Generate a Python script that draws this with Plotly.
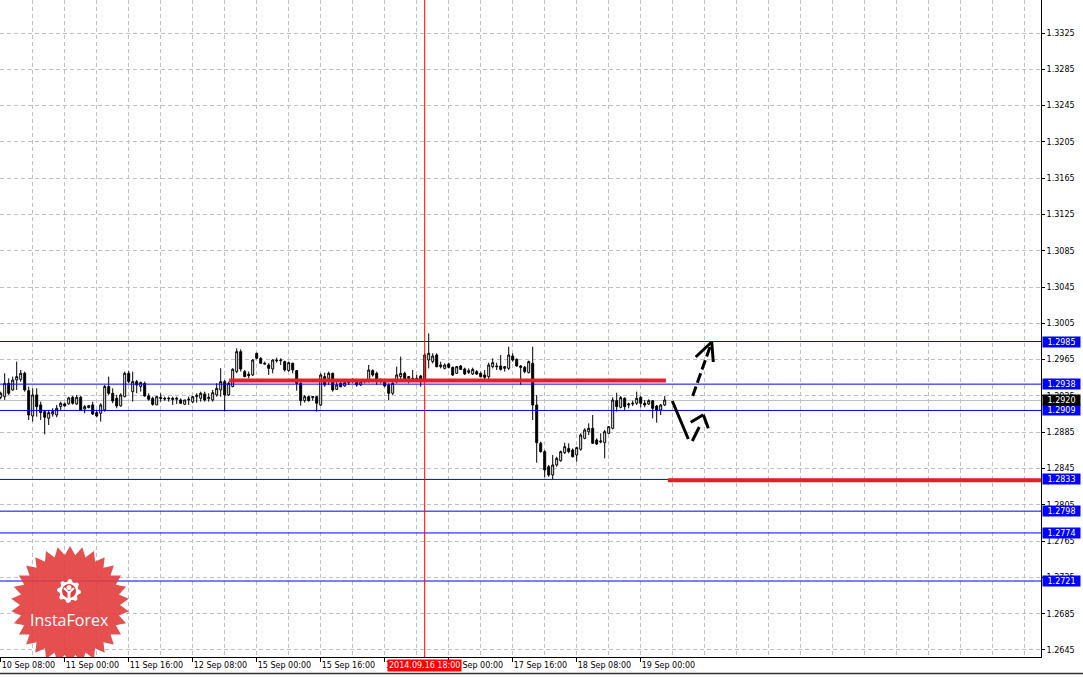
import math
import plotly.graph_objects as go

# ---------------- data (H1 bars) ----------------
opens = [1.29235,1.29242,1.29389,1.29316,1.29426,1.29433,1.29500,1.29308,1.29029,1.29261,
         1.29151,1.29077,1.29004,1.29051,1.29040,1.29132,1.29162,1.29162,1.29235,1.29162,
         1.29235,1.29106,1.29121,1.29151,1.29066,1.29059,1.29096,1.29353,1.29279,1.29224,
         1.29140,1.29242,1.29500,1.29297,1.29408,1.29353,1.29389,1.29250,1.29224,1.29151,
         1.29235,1.29224,1.29217,1.29224,1.29213,1.29206,1.29158,1.29206,1.29184,1.29242,
         1.29224,1.29272,1.29220,1.29206,1.29261,1.29316,1.29408,1.29261,1.29353,1.29518,
         1.29738,1.29518,1.29489,1.29481,1.29720,1.29665,1.29610,1.29591,1.29547,1.29646,
         1.29639,1.29628,1.29529,1.29610,1.29529,1.29389,1.29198,1.29242,1.29231,1.29242,
         1.29150,1.29463,1.29444,1.29499,1.29323,1.29389,1.29360,1.29397,1.29408,1.29408,
         1.29371,1.29408,1.29408,1.29529,1.29499,1.29408,1.29419,1.29371,1.29279,1.29408,
         1.29463,1.29499,1.29444,1.29426,1.29444,1.29470,1.29426,1.29646,1.29628,1.29701,
         1.29573,1.29554,1.29602,1.29565,1.29499,1.29580,1.29547,1.29510,1.29492,1.29518,
         1.29499,1.29481,1.29462,1.29573,1.29580,1.29580,1.29554,1.29554,1.29690,1.29653,
         1.29580,1.29565,1.29507,1.29609,1.29150,1.28728,1.28636,1.28470,1.28379,1.28489,
         1.28536,1.28625,1.28672,1.28654,1.28599,1.28662,1.28783,1.28856,1.28893,1.28764,
         1.28742,1.28735,1.28838,1.28893,1.29198,1.29124,1.29224,1.29150,1.29161,1.29169,
         1.29235,1.29169,1.29161,1.29198,1.29139,1.29095,1.29150]
highs = [1.29297,1.29500,1.29444,1.29463,1.29628,1.29536,1.29518,1.29353,1.29334,1.29334,
         1.29187,1.29096,1.29096,1.29114,1.29151,1.29187,1.29176,1.29242,1.29250,1.29261,
         1.29250,1.29151,1.29151,1.29187,1.29096,1.29169,1.29371,1.29463,1.29334,1.29261,
         1.29279,1.29518,1.29529,1.29518,1.29426,1.29408,1.29408,1.29279,1.29242,1.29250,
         1.29279,1.29242,1.29242,1.29242,1.29242,1.29224,1.29206,1.29242,1.29250,1.29279,
         1.29297,1.29297,1.29279,1.29316,1.29389,1.29555,1.29426,1.29408,1.29555,1.29775,
         1.29764,1.29536,1.29518,1.29654,1.29727,1.29676,1.29628,1.29610,1.29654,1.29672,
         1.29665,1.29639,1.29628,1.29617,1.29536,1.29408,1.29261,1.29253,1.29250,1.29250,
         1.29499,1.29507,1.29518,1.29507,1.29408,1.29426,1.29426,1.29426,1.29444,1.29426,
         1.29426,1.29433,1.29591,1.29543,1.29518,1.29444,1.29433,1.29389,1.29408,1.29573,
         1.29683,1.29518,1.29470,1.29536,1.29481,1.29481,1.29720,1.29940,1.29720,1.29720,
         1.29628,1.29609,1.29617,1.29573,1.29580,1.29591,1.29562,1.29554,1.29562,1.29536,
         1.29518,1.29536,1.29617,1.29664,1.29617,1.29701,1.29580,1.29793,1.29720,1.29664,
         1.29591,1.29580,1.29639,1.29793,1.29260,1.28746,1.28654,1.28489,1.28599,1.28580,
         1.28647,1.28735,1.28728,1.28672,1.28691,1.28838,1.28893,1.28948,1.29040,1.28783,
         1.28838,1.28875,1.28919,1.29235,1.29286,1.29249,1.29235,1.29176,1.29198,1.29297,
         1.29249,1.29205,1.29213,1.29205,1.29150,1.29161,1.29249]
lows = [1.29213,1.29206,1.29261,1.29308,1.29316,1.29408,1.29297,1.28985,1.28967,1.29022,
        1.28985,1.28827,1.28930,1.29022,1.29015,1.29096,1.29132,1.29154,1.29154,1.29151,
        1.29088,1.29059,1.29114,1.29040,1.29015,1.28967,1.29077,1.29261,1.29169,1.29114,
        1.29132,1.29235,1.29389,1.29187,1.29279,1.29297,1.29242,1.29198,1.29143,1.29151,
        1.29187,1.29198,1.29187,1.29151,1.29162,1.29162,1.29151,1.29151,1.29169,1.29176,
        1.29187,1.29187,1.29187,1.29187,1.29242,1.29242,1.29077,1.29250,1.29345,1.29500,
        1.29518,1.29456,1.29444,1.29470,1.29654,1.29602,1.29599,1.29481,1.29499,1.29617,
        1.29591,1.29518,1.29518,1.29499,1.29308,1.29143,1.29176,1.29187,1.29198,1.29077,
        1.29139,1.29352,1.29371,1.29297,1.29316,1.29345,1.29352,1.29371,1.29389,1.29352,
        1.29360,1.29389,1.29397,1.29463,1.29371,1.29389,1.29345,1.29205,1.29261,1.29389,
        1.29426,1.29408,1.29389,1.29408,1.29408,1.29352,1.29418,1.29554,1.29609,1.29565,
        1.29554,1.29543,1.29554,1.29470,1.29492,1.29536,1.29481,1.29492,1.29481,1.29481,
        1.29455,1.29426,1.29426,1.29554,1.29536,1.29529,1.29518,1.29536,1.29628,1.29573,
        1.29371,1.29499,1.29499,1.28985,1.28514,1.28625,1.28353,1.28360,1.28331,1.28470,
        1.28525,1.28610,1.28617,1.28573,1.28525,1.28647,1.28772,1.28819,1.28720,1.28709,
        1.28728,1.28562,1.28831,1.28882,1.29077,1.29113,1.29088,1.29113,1.29139,1.29150,
        1.29124,1.29124,1.29150,1.29003,1.28955,1.29040,1.29139]
closes = [1.29279,1.29389,1.29279,1.29426,1.29463,1.29500,1.29316,1.29040,1.29261,1.29132,
          1.29066,1.29015,1.29066,1.29077,1.29114,1.29169,1.29140,1.29228,1.29169,1.29235,
          1.29096,1.29132,1.29143,1.29051,1.29029,1.29151,1.29353,1.29279,1.29195,1.29140,
          1.29261,1.29500,1.29408,1.29408,1.29371,1.29397,1.29250,1.29213,1.29158,1.29242,
          1.29224,1.29217,1.29224,1.29213,1.29224,1.29169,1.29206,1.29213,1.29242,1.29257,
          1.29279,1.29206,1.29235,1.29286,1.29334,1.29408,1.29261,1.29389,1.29544,1.29738,
          1.29547,1.29463,1.29474,1.29646,1.29665,1.29610,1.29602,1.29554,1.29646,1.29639,
          1.29646,1.29536,1.29617,1.29536,1.29389,1.29198,1.29242,1.29198,1.29242,1.29169,
          1.29481,1.29371,1.29499,1.29316,1.29371,1.29352,1.29397,1.29408,1.29426,1.29371,
          1.29408,1.29426,1.29536,1.29481,1.29408,1.29426,1.29360,1.29279,1.29389,1.29481,
          1.29499,1.29426,1.29463,1.29444,1.29426,1.29426,1.29701,1.29720,1.29690,1.29573,
          1.29591,1.29591,1.29565,1.29481,1.29573,1.29543,1.29492,1.29529,1.29543,1.29492,
          1.29462,1.29455,1.29591,1.29617,1.29573,1.29543,1.29573,1.29701,1.29646,1.29580,
          1.29565,1.29518,1.29628,1.29150,1.28735,1.28636,1.28434,1.28379,1.28489,1.28562,
          1.28636,1.28691,1.28636,1.28580,1.28680,1.28819,1.28875,1.28893,1.28728,1.28720,
          1.28753,1.28856,1.28911,1.29205,1.29132,1.29231,1.29132,1.29161,1.29169,1.29224,
          1.29169,1.29150,1.29198,1.29113,1.29095,1.29150,1.29205]
bars = list(range(len(opens)))

time_tick_bars = [0, 16, 32, 48, 64, 80, 96, 112, 128, 144, 160]
time_tick_labels = ["10 Sep 08:00", "11 Sep 00:00", "11 Sep 16:00", "12 Sep 08:00",
                    "15 Sep 00:00", "15 Sep 16:00", "16 Sep 08:00", "17 Sep 00:00",
                    "17 Sep 16:00", "18 Sep 08:00", "19 Sep 00:00"]
grid_bars = [8, 24, 40, 56, 72, 88, 104, 120, 136, 152, 168, 176, 184, 192, 200, 208,
             216, 224, 232, 240, 248, 256]
price_ticks = [1.2645, 1.2685, 1.2725, 1.2765, 1.2805, 1.2845, 1.2885, 1.2925, 1.2965,
               1.3005, 1.3045, 1.3085, 1.3125, 1.3165, 1.3205, 1.3245, 1.3285, 1.3325]

blue_levels = [1.2985, 1.2938, 1.2909, 1.2833, 1.2798, 1.2774, 1.2721]
current_price = 1.2920
red_levels = [1.2942, 1.2832]
red_starts = [57.1, 166.8]
red_ends = [166.3, None]
vline_bar = 106
vline_label = "2014.09.16 18:00"

# ---------------- geometry helpers ----------------
W, H = 1041, 657
X0, X1 = -0.175, 260.075
Y0, Y1 = 1.263726, 1.336140


def px2x(px):
    return X0 + px / W * (X1 - X0)


def py2y(py):
    return Y1 - py / H * (Y1 - Y0)


FONT = "DejaVu Sans"

fig = go.Figure()
fig.add_trace(go.Candlestick(
    x=bars, open=opens, high=highs, low=lows, close=closes,
    increasing=dict(line=dict(color="black", width=1), fillcolor="white"),
    decreasing=dict(line=dict(color="black", width=1), fillcolor="black"),
    whiskerwidth=0, hoverinfo="skip", showlegend=False))

shapes = []
shapes.append(dict(type="line", xref="paper", x0=0, x1=1, yref="y", y0=current_price,
                   y1=current_price, line=dict(color="#c0c0c0", width=1), layer="below"))
for lv in blue_levels:
    shapes.append(dict(type="line", xref="paper", x0=0, x1=1, yref="y", y0=lv, y1=lv,
                       line=dict(color="#0000ff", width=1)))
shapes.append(dict(type="line", xref="x", x0=vline_bar, x1=vline_bar, yref="paper",
                   y0=0, y1=1, line=dict(color="#ff0000", width=1)))
for lv, s, e in zip(red_levels, red_starts, red_ends):
    shapes.append(dict(type="line", xref="x", x0=s, x1=(X1 if e is None else e), yref="y",
                       y0=lv, y1=lv, line=dict(color="#e3202a", width=4)))


def seg(p, q, dash="solid"):
    return dict(type="line", xref="x", yref="y", x0=px2x(p[0]), y0=py2y(p[1]),
                x1=px2x(q[0]), y1=py2y(q[1]),
                line=dict(color="black", width=3, dash=dash))


shapes.append(seg((692.7, 396), (711.7, 342), dash="10px,4px"))
shapes.append(seg((711.7, 342), (695.7, 357)))
shapes.append(seg((711.7, 342), (713.3, 362)))
shapes.append(seg((672.3, 401), (688.3, 439)))
shapes.append(seg((692.3, 441), (699.3, 427)))
shapes.append(seg((690.7, 422.3), (703.3, 414.7)))
shapes.append(seg((703.3, 414.7), (708.3, 428.3)))

# InstaForex starburst logo
cx, cy, r_out, r_in, n = 70, 605, 59, 50, 30
pts = []
for k in range(2 * n):
    a = math.pi * k / n - math.pi / 2
    r = r_out if k % 2 == 0 else r_in
    pts.append((cx + r * math.cos(a), cy + r * math.sin(a)))
path = "M " + " L ".join(f"{px2x(x):.4f},{py2y(y):.6f}" for x, y in pts) + " Z"
shapes.append(dict(type="path", xref="x", yref="y", path=path,
                   fillcolor="rgba(226,60,60,0.9)", line=dict(width=0)))
gx, gy = 69, 591
gpts = []
teeth = 8
for k in range(teeth * 4):
    a = 2 * math.pi * k / (teeth * 4)
    r = 12 if (k % 4) in (0, 1) else 9.5
    gpts.append((gx + r * math.cos(a), gy + r * math.sin(a)))
gpath = "M " + " L ".join(f"{px2x(x):.4f},{py2y(y):.6f}" for x, y in gpts) + " Z"
shapes.append(dict(type="path", xref="x", yref="y", path=gpath, fillcolor="white",
                   line=dict(width=0)))
shapes.append(dict(type="circle", xref="x", yref="y", x0=px2x(gx - 7), x1=px2x(gx + 7),
                   y0=py2y(gy + 7), y1=py2y(gy - 7), fillcolor="rgb(226,60,60)",
                   line=dict(width=0)))
shapes.append(dict(type="circle", xref="x", yref="y", x0=px2x(gx - 2.5), x1=px2x(gx + 2.5),
                   y0=py2y(gy - 1), y1=py2y(gy - 6), fillcolor="white", line=dict(width=0)))
shapes.append(dict(type="line", xref="x", yref="y", x0=px2x(gx), x1=px2x(gx),
                   y0=py2y(gy), y1=py2y(gy + 11), line=dict(color="white", width=3)))
shapes.append(dict(type="line", xref="x", yref="y", x0=px2x(gx - 5), x1=px2x(gx),
                   y0=py2y(gy - 3), y1=py2y(gy + 2), line=dict(color="white", width=2)))
shapes.append(dict(type="line", xref="x", yref="y", x0=px2x(gx + 5), x1=px2x(gx),
                   y0=py2y(gy - 3), y1=py2y(gy + 2), line=dict(color="white", width=2)))

# window bottom border
shapes.append(dict(type="line", xref="paper", x0=0, x1=1083 / W, yref="paper",
                   y0=-(673.5 - H) / H, y1=-(673.5 - H) / H,
                   line=dict(color="#303030", width=1.5)))

annotations = []
annotations.append(dict(x=px2x(69), y=py2y(620), xref="x", yref="y", text="InstaForex",
                        showarrow=False, font=dict(family="Open Sans", size=16, color="white")))
for lv in blue_levels:
    annotations.append(dict(xref="paper", x=1, xanchor="left", xshift=1, yref="y", y=lv,
                            yanchor="middle", text=f"{lv:.4f}", showarrow=False,
                            bgcolor="#0000ff", width=37, height=10, borderpad=0,
                            font=dict(family=FONT, size=8, color="white")))
annotations.append(dict(xref="paper", x=1, xanchor="left", xshift=1, yref="y",
                        y=current_price, yanchor="middle", text=f"{current_price:.4f}",
                        showarrow=False, bgcolor="black", width=37, height=10, borderpad=0,
                        font=dict(family=FONT, size=8, color="white")))
annotations.append(dict(xref="x", x=vline_bar, yref="paper", y=0, yanchor="top", yshift=-2,
                        text=vline_label, showarrow=False, bgcolor="#ff0000", borderpad=1,
                        font=dict(family=FONT, size=8, color="white")))

fig.update_layout(
    width=1083, height=677,
    margin=dict(l=0, r=42, t=0, b=20),
    paper_bgcolor="white", plot_bgcolor="white",
    shapes=shapes, annotations=annotations,
    font=dict(family=FONT, size=8, color="black"),
    xaxis=dict(range=[X0, X1], rangeslider=dict(visible=False), tickmode="array",
               tickvals=time_tick_bars, ticktext=time_tick_labels,
               ticklabelposition="outside right", ticks="outside", ticklen=4,
               tickcolor="black", showline=True, linecolor="black", linewidth=1,
               showgrid=True, gridcolor="#c0c0c0", griddash="4px,3px", zeroline=False,
               minor=dict(tickmode="array", tickvals=grid_bars, showgrid=True,
                          gridcolor="#c0c0c0", griddash="4px,3px", ticks=""),
               fixedrange=True),
    yaxis=dict(range=[Y0, Y1], side="right", tickmode="array", tickvals=price_ticks,
               ticktext=[f"{v:.4f}" for v in price_ticks], ticks="outside", ticklen=3,
               tickcolor="black", showline=True, linecolor="black", linewidth=1,
               showgrid=True, gridcolor="#c0c0c0", griddash="4px,3px", zeroline=False,
               fixedrange=True),
)

fig.write_html("out.html", config={"displayModeBar": False},
               post_script="document.body.style.margin='0';")
